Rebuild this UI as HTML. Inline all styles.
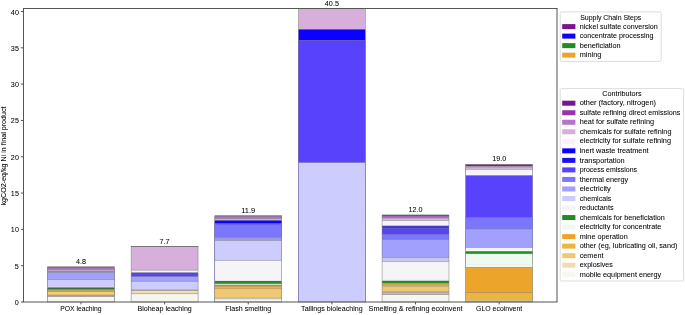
<!DOCTYPE html>
<html><head><meta charset="utf-8"><style>
html,body{margin:0;padding:0;background:#fff;}
svg{display:block;will-change:transform;}
text{stroke:#000;stroke-width:0.05px;font-family:"Liberation Sans",sans-serif;font-size:7.0px;fill:#000;}
</style></head><body>
<svg width="685" height="315" viewBox="0 0 685 315" xmlns="http://www.w3.org/2000/svg">
<rect x="47.50" y="266.90" width="66.91" height="35.10" fill="#7a1490"/>
<rect x="47.50" y="267.30" width="66.91" height="34.70" fill="#a274b4"/>
<rect x="47.50" y="269.50" width="66.91" height="32.50" fill="#d6b0da"/>
<rect x="47.50" y="271.00" width="66.91" height="31.00" fill="#8a93a2"/>
<rect x="47.50" y="272.70" width="66.91" height="29.30" fill="#a1a0fd"/>
<rect x="47.50" y="279.50" width="66.91" height="22.50" fill="#cccdfe"/>
<rect x="47.50" y="285.80" width="66.91" height="16.20" fill="#d6cef6"/>
<rect x="47.50" y="287.70" width="66.91" height="14.30" fill="#357035"/>
<rect x="47.50" y="289.40" width="66.91" height="12.60" fill="#c4a470"/>
<rect x="47.50" y="291.40" width="66.91" height="10.60" fill="#f2d074"/>
<rect x="47.50" y="295.00" width="66.91" height="7.00" fill="#b0a890"/>
<rect x="47.50" y="296.50" width="66.91" height="5.50" fill="#f7f5f1"/>
<rect x="47.50" y="266.65" width="66.91" height="0.5" fill="#7f7f7f"/>
<rect x="47.50" y="269.25" width="66.91" height="0.5" fill="#7f7f7f"/>
<rect x="47.50" y="270.75" width="66.91" height="0.5" fill="#7f7f7f"/>
<rect x="47.50" y="279.25" width="66.91" height="0.5" fill="#7f7f7f"/>
<rect x="47.50" y="287.45" width="66.91" height="0.5" fill="#7f7f7f"/>
<rect x="47.50" y="289.15" width="66.91" height="0.5" fill="#7f7f7f"/>
<rect x="47.50" y="291.15" width="66.91" height="0.5" fill="#7f7f7f"/>
<rect x="47.50" y="294.75" width="66.91" height="0.5" fill="#7f7f7f"/>
<rect x="47.50" y="296.25" width="66.91" height="0.5" fill="#7f7f7f"/>
<rect x="47.50" y="266.90" width="66.91" height="35.10" fill="none" stroke="#7f7f7f" stroke-width="0.5"/>
<rect x="131.14" y="246.40" width="66.91" height="55.60" fill="#d6b0da"/>
<rect x="131.14" y="270.10" width="66.91" height="31.90" fill="#f6f3f7"/>
<rect x="131.14" y="272.70" width="66.91" height="29.30" fill="#5842fc"/>
<rect x="131.14" y="276.50" width="66.91" height="25.50" fill="#a1a0fd"/>
<rect x="131.14" y="281.20" width="66.91" height="20.80" fill="#cccdfe"/>
<rect x="131.14" y="289.30" width="66.91" height="12.70" fill="#a8a8c0"/>
<rect x="131.14" y="290.40" width="66.91" height="11.60" fill="#f2e0a8"/>
<rect x="131.14" y="293.80" width="66.91" height="8.20" fill="#f7f5f1"/>
<rect x="131.14" y="246.15" width="66.91" height="0.5" fill="#7f7f7f"/>
<rect x="131.14" y="269.85" width="66.91" height="0.5" fill="#7f7f7f"/>
<rect x="131.14" y="272.45" width="66.91" height="0.5" fill="#7f7f7f"/>
<rect x="131.14" y="276.25" width="66.91" height="0.5" fill="#7f7f7f"/>
<rect x="131.14" y="280.95" width="66.91" height="0.5" fill="#7f7f7f"/>
<rect x="131.14" y="290.15" width="66.91" height="0.5" fill="#7f7f7f"/>
<rect x="131.14" y="293.55" width="66.91" height="0.5" fill="#7f7f7f"/>
<rect x="131.14" y="246.40" width="66.91" height="55.60" fill="none" stroke="#7f7f7f" stroke-width="0.5"/>
<rect x="130.89" y="246.05" width="67.41" height="0.7" fill="#666"/>
<rect x="214.79" y="215.80" width="66.91" height="86.20" fill="#7a1490"/>
<rect x="214.79" y="216.10" width="66.91" height="85.90" fill="#a27ab4"/>
<rect x="214.79" y="218.50" width="66.91" height="83.50" fill="#d6b0da"/>
<rect x="214.79" y="219.80" width="66.91" height="82.20" fill="#a0a090"/>
<rect x="214.79" y="220.60" width="66.91" height="81.40" fill="#0c00ff"/>
<rect x="214.79" y="223.30" width="66.91" height="78.70" fill="#5842fc"/>
<rect x="214.79" y="224.30" width="66.91" height="77.70" fill="#7b76fe"/>
<rect x="214.79" y="237.20" width="66.91" height="64.80" fill="#9c9cdc"/>
<rect x="214.79" y="240.30" width="66.91" height="61.70" fill="#cccdfe"/>
<rect x="214.79" y="260.20" width="66.91" height="41.80" fill="#f5f4f7"/>
<rect x="214.79" y="280.40" width="66.91" height="21.60" fill="#e4e0f4"/>
<rect x="214.79" y="281.00" width="66.91" height="21.00" fill="#228b22"/>
<rect x="214.79" y="283.70" width="66.91" height="18.30" fill="#d4dccc"/>
<rect x="214.79" y="284.90" width="66.91" height="17.10" fill="#b89050"/>
<rect x="214.79" y="286.70" width="66.91" height="15.30" fill="#e8b850"/>
<rect x="214.79" y="287.90" width="66.91" height="14.10" fill="#c8a060"/>
<rect x="214.79" y="288.90" width="66.91" height="13.10" fill="#f0c872"/>
<rect x="214.79" y="297.50" width="66.91" height="4.50" fill="#b8b0a0"/>
<rect x="214.79" y="298.40" width="66.91" height="3.60" fill="#c8c8c4"/>
<rect x="214.79" y="299.30" width="66.91" height="2.70" fill="#f7f5f1"/>
<rect x="214.79" y="215.55" width="66.91" height="0.5" fill="#7f7f7f"/>
<rect x="214.79" y="218.25" width="66.91" height="0.5" fill="#7f7f7f"/>
<rect x="214.79" y="223.05" width="66.91" height="0.5" fill="#7f7f7f"/>
<rect x="214.79" y="236.95" width="66.91" height="0.5" fill="#7f7f7f"/>
<rect x="214.79" y="240.05" width="66.91" height="0.5" fill="#7f7f7f"/>
<rect x="214.79" y="259.95" width="66.91" height="0.5" fill="#7f7f7f"/>
<rect x="214.79" y="283.45" width="66.91" height="0.5" fill="#7f7f7f"/>
<rect x="214.79" y="215.80" width="66.91" height="86.20" fill="none" stroke="#7f7f7f" stroke-width="0.5"/>
<rect x="298.43" y="8.50" width="66.91" height="293.50" fill="#d6b0da"/>
<rect x="298.43" y="29.30" width="66.91" height="272.70" fill="#0c00ff"/>
<rect x="298.43" y="40.30" width="66.91" height="261.70" fill="#5842fc"/>
<rect x="298.43" y="162.60" width="66.91" height="139.40" fill="#cccdfe"/>
<rect x="298.43" y="8.25" width="66.91" height="0.5" fill="#7f7f7f"/>
<rect x="298.43" y="29.05" width="66.91" height="0.5" fill="#7f7f7f"/>
<rect x="298.43" y="40.05" width="66.91" height="0.5" fill="#7f7f7f"/>
<rect x="298.43" y="162.35" width="66.91" height="0.5" fill="#7f7f7f"/>
<rect x="298.43" y="8.50" width="66.91" height="293.50" fill="none" stroke="#7f7f7f" stroke-width="0.5"/>
<rect x="382.06" y="215.00" width="66.91" height="87.00" fill="#6e2a84"/>
<rect x="382.06" y="216.10" width="66.91" height="85.90" fill="#a272bc"/>
<rect x="382.06" y="218.00" width="66.91" height="84.00" fill="#b89ac4"/>
<rect x="382.06" y="218.80" width="66.91" height="83.20" fill="#d6b0da"/>
<rect x="382.06" y="220.30" width="66.91" height="81.70" fill="#f6f3f7"/>
<rect x="382.06" y="225.90" width="66.91" height="76.10" fill="#3a30ea"/>
<rect x="382.06" y="228.60" width="66.91" height="73.40" fill="#5842fc"/>
<rect x="382.06" y="234.30" width="66.91" height="67.70" fill="#7b76fe"/>
<rect x="382.06" y="239.30" width="66.91" height="62.70" fill="#a1a0fd"/>
<rect x="382.06" y="257.30" width="66.91" height="44.70" fill="#c8c8ea"/>
<rect x="382.06" y="261.40" width="66.91" height="40.60" fill="#f5f4f7"/>
<rect x="382.06" y="279.70" width="66.91" height="22.30" fill="#ece8f6"/>
<rect x="382.06" y="280.80" width="66.91" height="21.20" fill="#228b22"/>
<rect x="382.06" y="283.20" width="66.91" height="18.80" fill="#c0c8b0"/>
<rect x="382.06" y="283.90" width="66.91" height="18.10" fill="#e2a446"/>
<rect x="382.06" y="285.90" width="66.91" height="16.10" fill="#b8ac84"/>
<rect x="382.06" y="286.80" width="66.91" height="15.20" fill="#f0c872"/>
<rect x="382.06" y="291.90" width="66.91" height="10.10" fill="#bcb4a4"/>
<rect x="382.06" y="293.00" width="66.91" height="9.00" fill="#bcb8b4"/>
<rect x="382.06" y="294.60" width="66.91" height="7.40" fill="#f7f5f1"/>
<rect x="382.06" y="214.75" width="66.91" height="0.5" fill="#7f7f7f"/>
<rect x="382.06" y="220.05" width="66.91" height="0.5" fill="#7f7f7f"/>
<rect x="382.06" y="225.65" width="66.91" height="0.5" fill="#7f7f7f"/>
<rect x="382.06" y="228.35" width="66.91" height="0.5" fill="#7f7f7f"/>
<rect x="382.06" y="234.05" width="66.91" height="0.5" fill="#7f7f7f"/>
<rect x="382.06" y="239.05" width="66.91" height="0.5" fill="#7f7f7f"/>
<rect x="382.06" y="257.05" width="66.91" height="0.5" fill="#7f7f7f"/>
<rect x="382.06" y="261.15" width="66.91" height="0.5" fill="#7f7f7f"/>
<rect x="382.06" y="283.65" width="66.91" height="0.5" fill="#7f7f7f"/>
<rect x="382.06" y="291.65" width="66.91" height="0.5" fill="#7f7f7f"/>
<rect x="382.06" y="294.35" width="66.91" height="0.5" fill="#7f7f7f"/>
<rect x="382.06" y="215.00" width="66.91" height="87.00" fill="none" stroke="#7f7f7f" stroke-width="0.5"/>
<rect x="465.70" y="164.30" width="66.91" height="137.70" fill="#7a1490"/>
<rect x="465.70" y="165.90" width="66.91" height="136.10" fill="#9a8aa0"/>
<rect x="465.70" y="166.80" width="66.91" height="135.20" fill="#c0a0d0"/>
<rect x="465.70" y="167.70" width="66.91" height="134.30" fill="#b0a0b8"/>
<rect x="465.70" y="168.20" width="66.91" height="133.80" fill="#d8b8e0"/>
<rect x="465.70" y="169.00" width="66.91" height="133.00" fill="#a8a4ac"/>
<rect x="465.70" y="169.80" width="66.91" height="132.20" fill="#f3f3fa"/>
<rect x="465.70" y="172.40" width="66.91" height="129.60" fill="#f8f5f2"/>
<rect x="465.70" y="175.50" width="66.91" height="126.50" fill="#5842fc"/>
<rect x="465.70" y="217.40" width="66.91" height="84.60" fill="#7b76fe"/>
<rect x="465.70" y="229.00" width="66.91" height="73.00" fill="#a1a0fd"/>
<rect x="465.70" y="247.40" width="66.91" height="54.60" fill="#f5f4f7"/>
<rect x="465.70" y="251.30" width="66.91" height="50.70" fill="#228b22"/>
<rect x="465.70" y="253.80" width="66.91" height="48.20" fill="#eefaf0"/>
<rect x="465.70" y="264.00" width="66.91" height="38.00" fill="#f2eef2"/>
<rect x="465.70" y="264.80" width="66.91" height="37.20" fill="#eefaf0"/>
<rect x="465.70" y="267.30" width="66.91" height="34.70" fill="#eca52a"/>
<rect x="465.70" y="292.40" width="66.91" height="9.60" fill="#ecb440"/>
<rect x="465.70" y="300.40" width="66.91" height="1.60" fill="#c0c4b8"/>
<rect x="465.70" y="164.05" width="66.91" height="0.5" fill="#7f7f7f"/>
<rect x="465.70" y="175.25" width="66.91" height="0.5" fill="#7f7f7f"/>
<rect x="465.70" y="217.15" width="66.91" height="0.5" fill="#7f7f7f"/>
<rect x="465.70" y="228.75" width="66.91" height="0.5" fill="#7f7f7f"/>
<rect x="465.70" y="247.15" width="66.91" height="0.5" fill="#7f7f7f"/>
<rect x="465.70" y="251.05" width="66.91" height="0.5" fill="#7f7f7f"/>
<rect x="465.70" y="253.55" width="66.91" height="0.5" fill="#7f7f7f"/>
<rect x="465.70" y="267.05" width="66.91" height="0.5" fill="#7f7f7f"/>
<rect x="465.70" y="292.15" width="66.91" height="0.5" fill="#7f7f7f"/>
<rect x="465.70" y="164.30" width="66.91" height="137.70" fill="none" stroke="#7f7f7f" stroke-width="0.5"/>
<rect x="23.00" y="8.00" width="534.50" height="1.00" fill="#555"/>
<rect x="23.00" y="301.50" width="534.50" height="1.00" fill="#555"/>
<rect x="23.00" y="8.50" width="1.00" height="293.50" fill="#555"/>
<rect x="556.50" y="8.50" width="1.00" height="293.50" fill="#555"/>
<rect x="20.90" y="301.50" width="2.60" height="1.00" fill="#555"/>
<text x="18.90" y="305.00" text-anchor="end" textLength="4.01" lengthAdjust="spacingAndGlyphs">0</text>
<rect x="20.90" y="265.19" width="2.60" height="1.00" fill="#555"/>
<text x="18.90" y="268.69" text-anchor="end" textLength="4.01" lengthAdjust="spacingAndGlyphs">5</text>
<rect x="20.90" y="228.88" width="2.60" height="1.00" fill="#555"/>
<text x="18.90" y="232.38" text-anchor="end" textLength="8.02" lengthAdjust="spacingAndGlyphs">10</text>
<rect x="20.90" y="192.56" width="2.60" height="1.00" fill="#555"/>
<text x="18.90" y="196.06" text-anchor="end" textLength="8.02" lengthAdjust="spacingAndGlyphs">15</text>
<rect x="20.90" y="156.25" width="2.60" height="1.00" fill="#555"/>
<text x="18.90" y="159.75" text-anchor="end" textLength="8.02" lengthAdjust="spacingAndGlyphs">20</text>
<rect x="20.90" y="119.94" width="2.60" height="1.00" fill="#555"/>
<text x="18.90" y="123.44" text-anchor="end" textLength="8.02" lengthAdjust="spacingAndGlyphs">25</text>
<rect x="20.90" y="83.62" width="2.60" height="1.00" fill="#555"/>
<text x="18.90" y="87.12" text-anchor="end" textLength="8.02" lengthAdjust="spacingAndGlyphs">30</text>
<rect x="20.90" y="47.31" width="2.60" height="1.00" fill="#555"/>
<text x="18.90" y="50.81" text-anchor="end" textLength="8.02" lengthAdjust="spacingAndGlyphs">35</text>
<rect x="20.90" y="11.00" width="2.60" height="1.00" fill="#555"/>
<text x="18.90" y="14.50" text-anchor="end" textLength="8.02" lengthAdjust="spacingAndGlyphs">40</text>
<rect x="80.46" y="302.00" width="1.00" height="2.40" fill="#555"/>
<text x="80.96" y="310.90" text-anchor="middle" textLength="41.36" lengthAdjust="spacingAndGlyphs">POX leaching</text>
<text x="80.96" y="264.00" text-anchor="middle" textLength="10.02" lengthAdjust="spacingAndGlyphs">4.8</text>
<rect x="164.10" y="302.00" width="1.00" height="2.40" fill="#555"/>
<text x="164.60" y="310.90" text-anchor="middle" textLength="54.35" lengthAdjust="spacingAndGlyphs">Bioheap leaching</text>
<text x="164.60" y="243.50" text-anchor="middle" textLength="10.02" lengthAdjust="spacingAndGlyphs">7.7</text>
<rect x="247.74" y="302.00" width="1.00" height="2.40" fill="#555"/>
<text x="248.24" y="310.90" text-anchor="middle" textLength="45.77" lengthAdjust="spacingAndGlyphs">Flash smelting</text>
<text x="248.24" y="212.90" text-anchor="middle" textLength="14.03" lengthAdjust="spacingAndGlyphs">11.9</text>
<rect x="331.38" y="302.00" width="1.00" height="2.40" fill="#555"/>
<text x="331.88" y="310.90" text-anchor="middle" textLength="61.48" lengthAdjust="spacingAndGlyphs">Tailings bioleaching</text>
<text x="331.88" y="5.60" text-anchor="middle" textLength="14.03" lengthAdjust="spacingAndGlyphs">40.5</text>
<rect x="415.02" y="302.00" width="1.00" height="2.40" fill="#555"/>
<text x="415.52" y="310.90" text-anchor="middle" textLength="93.93" lengthAdjust="spacingAndGlyphs">Smelting &amp; refining ecoinvent</text>
<text x="415.52" y="212.10" text-anchor="middle" textLength="14.03" lengthAdjust="spacingAndGlyphs">12.0</text>
<rect x="498.66" y="302.00" width="1.00" height="2.40" fill="#555"/>
<text x="499.16" y="310.90" text-anchor="middle" textLength="46.13" lengthAdjust="spacingAndGlyphs">GLO ecoinvent</text>
<text x="499.16" y="161.40" text-anchor="middle" textLength="14.03" lengthAdjust="spacingAndGlyphs">19.0</text>
<g transform="translate(6.0 156.0) rotate(-90)">
<text x="0.00" y="0.00" text-anchor="middle" textLength="98.95" lengthAdjust="spacingAndGlyphs">kgCO2-eq/kg Ni in final product</text>
</g>
<rect x="560.2" y="11.9" width="101.0" height="49.5" rx="1.2" fill="#fff" fill-opacity="0.8" stroke="#cfcfcf" stroke-width="0.7"/>
<text x="610.70" y="19.80" text-anchor="middle" textLength="61.10" lengthAdjust="spacingAndGlyphs">Supply Chain Steps</text>
<rect x="562.2" y="24.10" width="13.2" height="5.0" fill="#7a1490"/>
<text x="579.70" y="28.75" text-anchor="start" textLength="78.10" lengthAdjust="spacingAndGlyphs">nickel sulfate conversion</text>
<rect x="562.2" y="33.62" width="13.2" height="5.0" fill="#0c00ff"/>
<text x="579.70" y="38.27" text-anchor="start" textLength="73.87" lengthAdjust="spacingAndGlyphs">concentrate processing</text>
<rect x="562.2" y="43.14" width="13.2" height="5.0" fill="#228b22"/>
<text x="579.70" y="47.79" text-anchor="start" textLength="40.86" lengthAdjust="spacingAndGlyphs">beneficiation</text>
<rect x="562.2" y="52.66" width="13.2" height="5.0" fill="#eca52a"/>
<text x="579.70" y="57.31" text-anchor="start" textLength="21.62" lengthAdjust="spacingAndGlyphs">mining</text>
<rect x="560.2" y="88.6" width="123.39999999999998" height="192.4" rx="1.2" fill="#fff" fill-opacity="0.8" stroke="#cfcfcf" stroke-width="0.7"/>
<text x="621.90" y="96.10" text-anchor="middle" textLength="39.25" lengthAdjust="spacingAndGlyphs">Contributors</text>
<rect x="562.2" y="100.70" width="13.2" height="5.0" fill="#7a1490"/>
<text x="579.70" y="105.35" text-anchor="start" textLength="76.28" lengthAdjust="spacingAndGlyphs">other (factory, nitrogen)</text>
<rect x="562.2" y="110.23" width="13.2" height="5.0" fill="#9a32ae"/>
<text x="579.70" y="114.88" text-anchor="start" textLength="100.70" lengthAdjust="spacingAndGlyphs">sulfate refining direct emissions</text>
<rect x="562.2" y="119.76" width="13.2" height="5.0" fill="#b874ca"/>
<text x="579.70" y="124.41" text-anchor="start" textLength="74.35" lengthAdjust="spacingAndGlyphs">heat for sulfate refining</text>
<rect x="562.2" y="129.29" width="13.2" height="5.0" fill="#d6b0da"/>
<text x="579.70" y="133.94" text-anchor="start" textLength="91.73" lengthAdjust="spacingAndGlyphs">chemicals for sulfate refining</text>
<rect x="562.2" y="138.82" width="13.2" height="5.0" fill="#f6f3f7"/>
<text x="579.70" y="143.47" text-anchor="start" textLength="91.34" lengthAdjust="spacingAndGlyphs">electricity for sulfate refining</text>
<rect x="562.2" y="148.35" width="13.2" height="5.0" fill="#0c00ff"/>
<text x="579.70" y="153.00" text-anchor="start" textLength="68.93" lengthAdjust="spacingAndGlyphs">inert waste treatment</text>
<rect x="562.2" y="157.88" width="13.2" height="5.0" fill="#200ff0"/>
<text x="579.70" y="162.53" text-anchor="start" textLength="45.04" lengthAdjust="spacingAndGlyphs">transportation</text>
<rect x="562.2" y="167.41" width="13.2" height="5.0" fill="#5842fc"/>
<text x="579.70" y="172.06" text-anchor="start" textLength="57.42" lengthAdjust="spacingAndGlyphs">process emissions</text>
<rect x="562.2" y="176.94" width="13.2" height="5.0" fill="#7b76fe"/>
<text x="579.70" y="181.59" text-anchor="start" textLength="48.52" lengthAdjust="spacingAndGlyphs">thermal energy</text>
<rect x="562.2" y="186.47" width="13.2" height="5.0" fill="#a1a0fd"/>
<text x="579.70" y="191.12" text-anchor="start" textLength="31.19" lengthAdjust="spacingAndGlyphs">electricity</text>
<rect x="562.2" y="196.00" width="13.2" height="5.0" fill="#cccdfe"/>
<text x="579.70" y="200.65" text-anchor="start" textLength="31.58" lengthAdjust="spacingAndGlyphs">chemicals</text>
<rect x="562.2" y="205.53" width="13.2" height="5.0" fill="#f5f4f7"/>
<text x="579.70" y="210.18" text-anchor="start" textLength="33.86" lengthAdjust="spacingAndGlyphs">reductants</text>
<rect x="562.2" y="215.06" width="13.2" height="5.0" fill="#228b22"/>
<text x="579.70" y="219.71" text-anchor="start" textLength="85.10" lengthAdjust="spacingAndGlyphs">chemicals for beneficiation</text>
<rect x="562.2" y="224.59" width="13.2" height="5.0" fill="#eefaf0"/>
<text x="579.70" y="229.24" text-anchor="start" textLength="81.77" lengthAdjust="spacingAndGlyphs">electricity for concentrate</text>
<rect x="562.2" y="234.12" width="13.2" height="5.0" fill="#eca52a"/>
<text x="579.70" y="238.77" text-anchor="start" textLength="48.01" lengthAdjust="spacingAndGlyphs">mine operation</text>
<rect x="562.2" y="243.65" width="13.2" height="5.0" fill="#ecb440"/>
<text x="579.70" y="248.30" text-anchor="start" textLength="97.70" lengthAdjust="spacingAndGlyphs">other (eg, lubricating oil, sand)</text>
<rect x="562.2" y="253.18" width="13.2" height="5.0" fill="#f0c872"/>
<text x="579.70" y="257.83" text-anchor="start" textLength="23.82" lengthAdjust="spacingAndGlyphs">cement</text>
<rect x="562.2" y="262.71" width="13.2" height="5.0" fill="#f0dcb0"/>
<text x="579.70" y="267.36" text-anchor="start" textLength="33.02" lengthAdjust="spacingAndGlyphs">explosives</text>
<rect x="562.2" y="272.24" width="13.2" height="5.0" fill="#f7f5f1"/>
<text x="579.70" y="276.89" text-anchor="start" textLength="81.42" lengthAdjust="spacingAndGlyphs">mobile equipment energy</text>
</svg>
</body></html>
